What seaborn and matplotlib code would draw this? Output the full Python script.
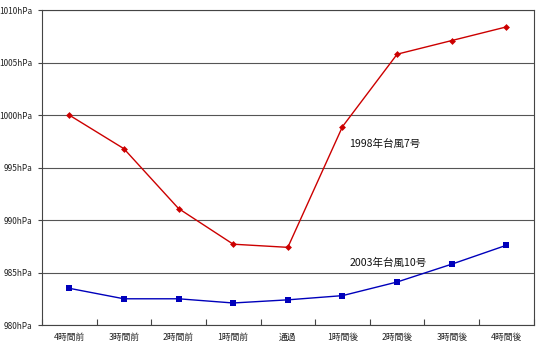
import matplotlib
matplotlib.use("Agg")
import matplotlib.pyplot as plt
import seaborn as sns
import pandas as pd
import numpy as np

# Pressure around typhoon passage (hPa)
categories = ["4時間前", "3時間前", "2時間前", "1時間前", "通過",
              "1時間後", "2時間後", "3時間後", "4時間後"]
typhoon_1998 = [1000.0, 996.8, 991.1, 987.7, 987.4, 998.9, 1005.8, 1007.1, 1008.4]
typhoon_2003 = [983.5, 982.5, 982.5, 982.1, 982.4, 982.8, 984.1, 985.8, 987.6]
series_names = ["1998年台風7号", "2003年台風10号"]
y_ticks = [980, 985, 990, 995, 1000, 1005, 1010]

sns.set_theme(style="white")
plt.rcParams["font.family"] = ["Noto Sans CJK JP", "DejaVu Sans"]

pos = np.arange(len(categories))
df = pd.DataFrame({
    "pos": np.concatenate([pos, pos]),
    "hPa": typhoon_1998 + typhoon_2003,
    "series": [series_names[0]] * len(pos) + [series_names[1]] * len(pos),
})

fig = plt.figure(figsize=(5.37, 3.48), dpi=100)
ax = fig.add_axes([0.078, 0.066, 0.916, 0.905])

sns.lineplot(data=df, x="pos", y="hPa", hue="series", style="series",
             palette={series_names[0]: "#CC0000", series_names[1]: "#0000BB"},
             markers={series_names[0]: "D", series_names[1]: "s"},
             dashes=False, markersize=4, linewidth=1.0, markeredgewidth=0,
             sort=False, legend=False, ax=ax)
for line in ax.lines:
    if line.get_marker() == "D":
        line.set_markersize(3.5)
    else:
        line.set_markersize(4.5)

ax.set_xlim(-0.5, len(categories) - 0.5)
ax.set_ylim(980, 1010)
ax.set_yticks(y_ticks)
ax.set_yticklabels([f"{v}hPa" for v in y_ticks], fontsize=6)
ax.set_xticks(pos)
ax.set_xticklabels(categories, fontsize=6.3)
ax.set_xticks(np.arange(len(categories) + 1) - 0.5, minor=True)
ax.tick_params(axis="x", which="major", length=0, pad=6, colors="#222222")
ax.tick_params(axis="x", which="minor", direction="in", length=4,
               width=0.8, color="#444444", bottom=True)
ax.tick_params(axis="y", which="major", length=3, width=0.8,
               color="#444444", left=True, pad=4, colors="#222222")
ax.set_xlabel("")
ax.set_ylabel("")

ax.yaxis.grid(True, color="#555555", linewidth=0.8)
ax.set_axisbelow(True)
for side in ["left", "bottom", "right", "top"]:
    ax.spines[side].set_visible(True)
    ax.spines[side].set_color("#444444")
    ax.spines[side].set_linewidth(0.8)

ax.text(5.13, 997.3, series_names[0], fontsize=7.6, color="#111111",
        ha="left", va="center")
ax.text(5.13, 985.9, series_names[1], fontsize=7.6, color="#111111",
        ha="left", va="center")

fig.savefig("out.png", dpi=100, facecolor="white")
